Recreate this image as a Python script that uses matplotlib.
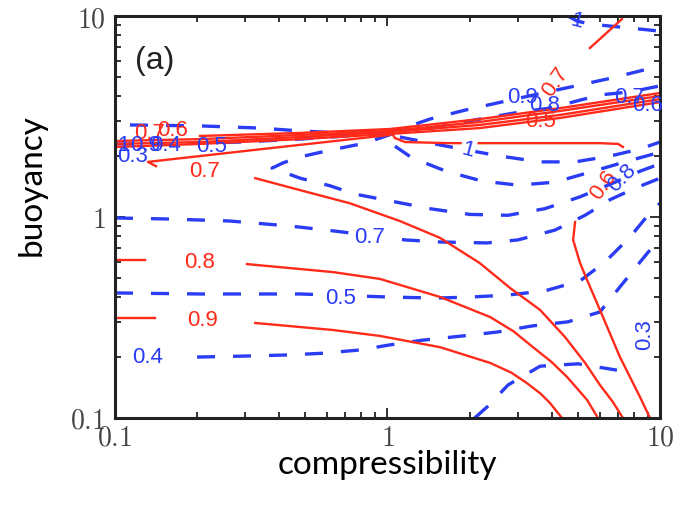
import matplotlib
matplotlib.use('Agg')
import matplotlib.pyplot as plt
from matplotlib.ticker import NullFormatter

plt.rcParams['mathtext.fontset'] = 'cm'

RED = '#ff2a1a'
BLUE = '#2a3cf4'

# solid (red) contours
red_09a_x = [0.1, 0.14]
red_09a_y = [0.315, 0.315]
red_09b_x = [0.327, 0.631, 0.938, 1.56, 2.38, 2.85, 3.25, 3.65, 3.94, 4.37]
red_09b_y = [0.297, 0.274, 0.256, 0.225, 0.188, 0.168, 0.149, 0.132, 0.119, 0.1]

red_08a_x = [0.1, 0.129]
red_08a_y = [0.611, 0.611]
red_08b_x = [0.305, 0.631, 0.938, 1.56, 2.38, 2.90, 3.42, 4.00, 4.56, 5.40, 5.92]
red_08b_y = [0.583, 0.532, 0.492, 0.400, 0.318, 0.270, 0.225, 0.190, 0.160, 0.123, 0.1]

red_07_x = [0.327, 0.478, 0.728, 1.11, 1.56, 2.18, 2.82, 3.63, 4.48, 5.31, 6.02, 6.72, 7.31]
red_07_y = [1.56, 1.36, 1.17, 0.955, 0.787, 0.590, 0.443, 0.345, 0.253, 0.188, 0.146, 0.120, 0.1]

red_06_x = [4.88, 4.80, 5.09, 5.40, 6.02, 7.13, 8.45, 9.19]
red_06_y = [0.944, 0.769, 0.590, 0.486, 0.345, 0.201, 0.127, 0.1]

red_10_x = [1.02, 1.065, 1.16, 1.69, 2.59, 4.30, 6.02, 7.02, 7.31]
red_10_y = [2.71, 2.47, 2.36, 2.33, 2.33, 2.33, 2.33, 2.31, 2.23]

red_top_x = [5.53, 7.25]
red_top_y = [6.93, 9.66]

# bundle of red lines meeting near compressibility ~ 1
band_x = [0.1, 0.205, 0.478, 1.02, 2.18, 4.30, 10]
band1_y = [2.50, 2.53, 2.62, 2.74, 3.07, 3.48, 4.14]
band2_y = [2.39, 2.44, 2.56, 2.68, 2.97, 3.37, 4.00]
band3_y = [2.31, 2.36, 2.50, 2.65, 2.87, 3.22, 3.86]
band4_y = [2.23, 2.31, 2.44, 2.59, 2.77, 3.11, 3.73]
band5_x = [0.1414, 0.132, 0.371, 1.02]
band5_y = [1.79, 1.88, 2.20, 2.56]

# dashed (blue) contours
blue_07_x = [0.1, 0.159, 0.264, 0.438, 0.641, 1.16, 1.56, 2.32, 3.01, 4.12, 5.31, 6.56, 8.09, 10]
blue_07_y = [0.989, 0.977, 0.955, 0.902, 0.851, 0.769, 0.751, 0.743, 0.769, 0.861, 1.02, 1.22, 1.39, 1.56]

blue_05_x = [0.1, 0.205, 0.478, 0.996, 1.52, 2.04, 2.77, 3.78, 5.09, 6.28, 7.76, 9.03, 10]
blue_05_y = [0.419, 0.414, 0.414, 0.400, 0.395, 0.400, 0.409, 0.429, 0.481, 0.597, 0.794, 1.02, 1.17]

blue_04_x = [0.200, 0.288, 0.438, 0.579, 0.793, 1.02, 1.35, 1.89, 2.54, 3.39, 4.60, 6.02, 7.13, 8.45, 10]
blue_04_y = [0.201, 0.203, 0.206, 0.210, 0.218, 0.231, 0.244, 0.256, 0.268, 0.287, 0.301, 0.337, 0.449, 0.597, 0.787]

blue_03_x = [2.09, 2.32, 2.77, 3.63, 5.00, 6.95]
blue_03_y = [0.1, 0.1135, 0.146, 0.181, 0.186, 0.173]

blue_hairpin_x = [1.04, 0.826, 0.615, 0.478, 0.414, 0.377, 0.421, 0.478, 0.615, 0.760,
                  1.065, 1.43, 2.01, 2.77, 3.78, 5.09, 6.84, 8.45, 10]
blue_hairpin_y = [2.59, 2.33, 2.15, 1.99, 1.86, 1.75, 1.66, 1.56, 1.43, 1.30,
                  1.19, 1.10, 1.03, 1.02, 1.10, 1.26, 1.49, 1.69, 1.84]

blue_ub_x = [1.065, 1.23, 1.64, 2.22, 3.01, 4.12, 5.44, 7.44, 10]
blue_ub_y = [2.25, 1.97, 1.69, 1.51, 1.44, 1.49, 1.66, 1.88, 2.10]

blue_ua_x = [1.11, 1.49, 1.97, 2.59, 3.63, 4.88, 6.56, 8.45, 10]
blue_ua_y = [2.50, 2.31, 2.15, 2.01, 1.88, 1.88, 2.01, 2.18, 2.36]

blue_up1_x = [0.1135, 0.205, 0.340, 0.478, 0.670, 1.02, 1.43, 1.94, 3.06, 5.09, 6.67, 9.03, 10]
blue_up1_y = [2.87, 2.84, 2.77, 2.68, 2.62, 2.62, 3.07, 3.41, 3.91, 4.54, 4.92, 5.45, 5.64]

blue_up2_x = [1.04, 1.46, 2.09, 3.06, 3.94, 6.02, 7.76, 10]
blue_up2_y = [2.68, 2.77, 3.04, 3.33, 3.48, 4.05, 4.19, 4.49]

blue_top_x = [4.59, 4.96, 5.53, 7.13, 10]
blue_top_y = [10, 9.44, 9.12, 8.81, 8.41]

blue_mid_x = [0.1, 0.166, 0.288, 0.478, 1.02]
blue_mid_y = [2.31, 2.31, 2.36, 2.44, 2.62]

# contour labels: text, x, y, rotation, colour, white box behind
lab_text = ['0.9', '0.8', '0.7', '0.7', '0.6', '0.5', '0.7', '0.6',
            '0.7', '0.5', '0.4', '0.3', '1', '1', '0.9', '0.8', '0.7', '0.6',
            '0.8', '0.5', '0.4', '0.9', '1', '0.3']
lab_x = [0.210, 0.205, 0.214, 0.134, 0.162, 3.63, 4.12, 6.18,
         0.862, 0.670, 0.132, 8.81, 1.97, 4.96, 3.12, 3.78, 7.76, 9.03,
         7.25, 0.227, 0.153, 0.129, 0.107, 0.1164]
lab_y = [0.307, 0.597, 1.68, 2.59, 2.68, 2.97, 4.70, 1.44,
         0.794, 0.395, 0.201, 0.259, 2.15, 9.44, 3.91, 3.57, 3.91, 3.57,
         1.56, 2.25, 2.28, 2.28, 2.28, 1.99]
lab_rot = [0, 0, 0, 0, 0, 0, 55, 55,
           0, 0, 0, 90, -15, -15, 0, 0, 0, 0,
           45, 0, 0, 0, 0, 0]
lab_col = ['r'] * 8 + ['b'] * 16
lab_box = [False, False, False, False, False, False, False, False,
           True, True, False, False, True, False, False, False, False, False,
           False, False, False, False, False, False]

red_lines = [(red_09a_x, red_09a_y), (red_09b_x, red_09b_y),
             (red_08a_x, red_08a_y), (red_08b_x, red_08b_y),
             (red_07_x, red_07_y), (red_06_x, red_06_y),
             (red_10_x, red_10_y), (red_top_x, red_top_y),
             (band_x[1:], band1_y[1:]), (band_x, band2_y),
             (band_x, band3_y), (band_x, band4_y), (band5_x, band5_y)]
blue_lines = [(blue_07_x, blue_07_y), (blue_05_x, blue_05_y),
              (blue_04_x, blue_04_y), (blue_03_x, blue_03_y),
              (blue_hairpin_x, blue_hairpin_y), (blue_ub_x, blue_ub_y),
              (blue_ua_x, blue_ua_y), (blue_up1_x, blue_up1_y),
              (blue_up2_x, blue_up2_y), (blue_top_x, blue_top_y),
              (blue_mid_x, blue_mid_y)]

fig = plt.figure(figsize=(6.89, 5.05), dpi=100)
ax = fig.add_axes([0.1669, 0.1723, 0.791, 0.796])
ax.set_xscale('log')
ax.set_yscale('log')

for xs, ys in blue_lines:
    ax.plot(xs, ys, color=BLUE, lw=2.4, dashes=(5.4, 5.4))
for xs, ys in red_lines:
    ax.plot(xs, ys, color=RED, lw=1.7, solid_joinstyle='round')

for t, x, y, r, c, box in zip(lab_text, lab_x, lab_y, lab_rot, lab_col, lab_box):
    kw = {}
    if box:
        kw['bbox'] = dict(facecolor='white', edgecolor='none', pad=1)
    ax.text(x, y, t, color=RED if c == 'r' else BLUE, fontsize=16,
            family='Liberation Sans', rotation=r, ha='center', va='center',
            rotation_mode='anchor', **kw)

ax.text(0.037, 0.925, '(a)', transform=ax.transAxes, fontsize=23,
        family='Liberation Sans', va='top', ha='left', color='#222222')

ax.set_xlim(0.1, 10)
ax.set_ylim(0.1, 10)
ax.set_xticks([0.1, 1, 10])
ax.set_xticklabels([r'$0.1$', r'$1$', r'$10$'])
ax.set_yticks([0.1, 1, 10])
ax.set_yticklabels([r'$0.1$', r'$1$', r'$10$'])
ax.xaxis.set_minor_formatter(NullFormatter())
ax.yaxis.set_minor_formatter(NullFormatter())
ax.tick_params(which='both', direction='in', top=True, right=True,
               width=1.3, color='#222222')
ax.tick_params(which='major', length=7, labelsize=20, labelcolor='#444444')
ax.tick_params(axis='x', which='major', pad=4)
ax.tick_params(axis='y', which='major', pad=7)
ax.tick_params(which='minor', length=4)
for s in ax.spines.values():
    s.set_linewidth(2.2)
    s.set_color('#222222')

ax.set_xlabel('compressibility', fontsize=24, family='Lato')
ax.set_ylabel('buoyancy', fontsize=24, family='Lato')
ax.xaxis.set_label_coords(0.5, -0.08)
ax.yaxis.set_label_coords(-0.125, 0.58)

fig.savefig('out.png', dpi=100)
